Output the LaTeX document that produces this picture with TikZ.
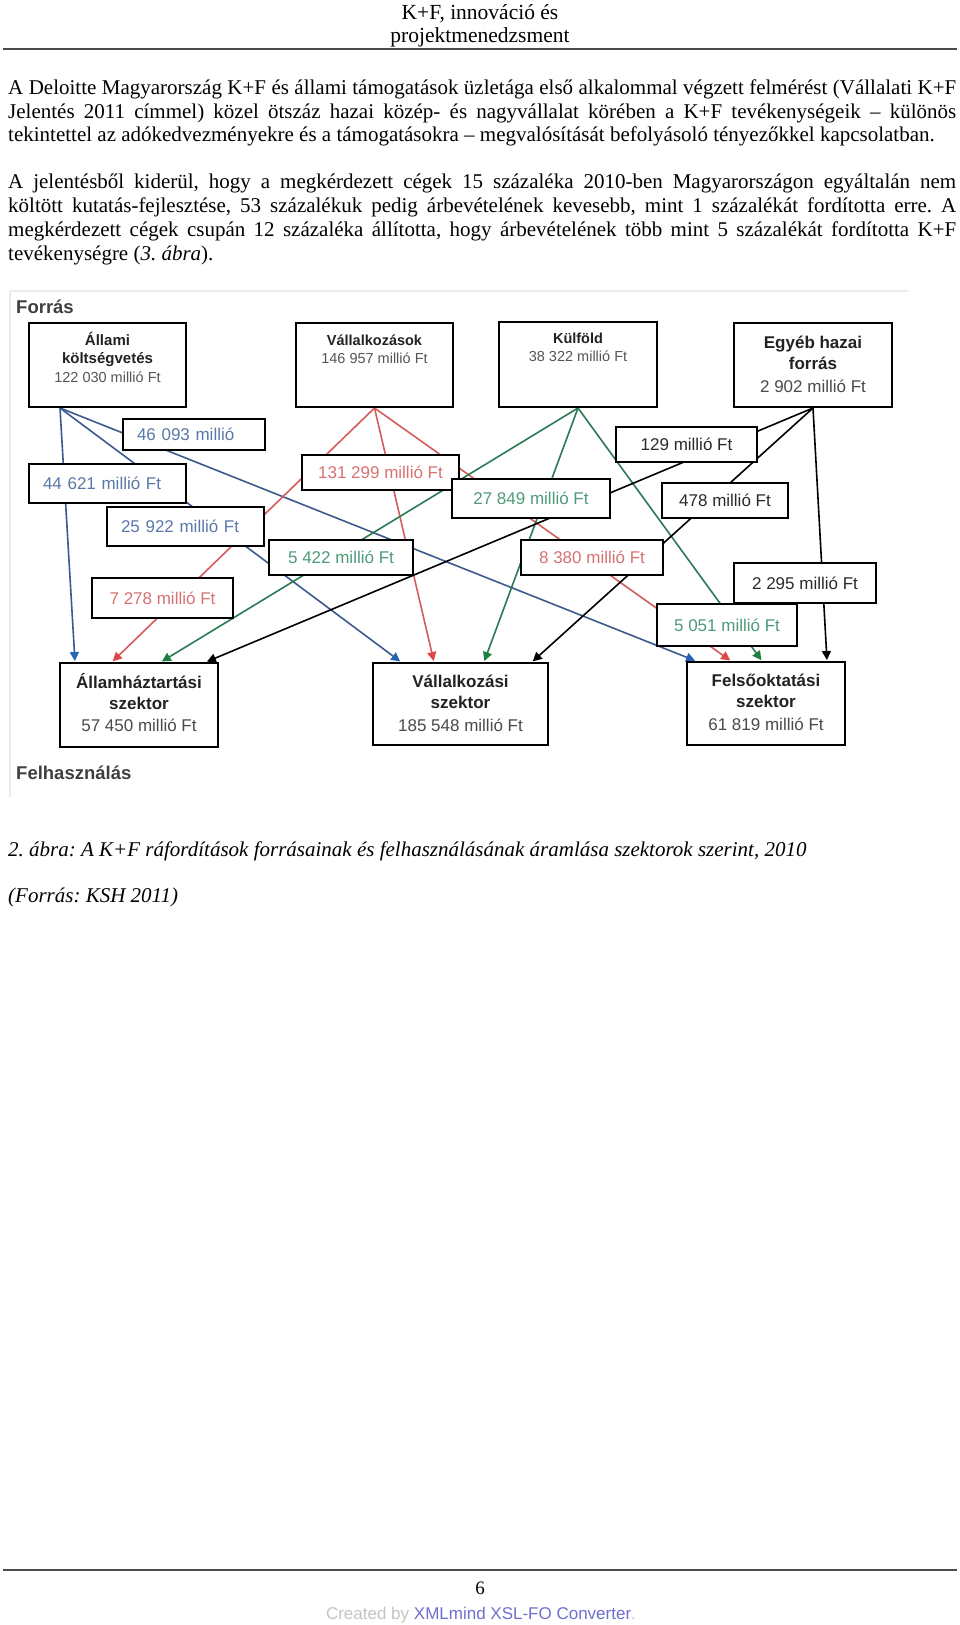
\documentclass[tikz,border=0pt]{standalone}
\usepackage{fontspec}
\setmainfont{Liberation Serif}
\newfontfamily\arialf{Liberation Sans}
\usetikzlibrary{arrows.meta}
\pgfdeclarelayer{bg}
\pgfsetlayers{bg,main}
\frenchspacing
\definecolor{bline}{HTML}{3C5A8C}
\definecolor{barrow}{HTML}{2563B5}
\definecolor{rline}{HTML}{D45C5C}
\definecolor{rarrow}{HTML}{E04646}
\definecolor{gline}{HTML}{2B7A55}
\definecolor{garrow}{HTML}{1B8040}
\definecolor{btext}{HTML}{5A78A8}
\definecolor{rtext}{HTML}{D87272}
\definecolor{gtext}{HTML}{4E9A7A}
\definecolor{ktext}{HTML}{2A2A2A}
\definecolor{valgray}{HTML}{555555}
\definecolor{titlek}{HTML}{222222}
\definecolor{rulegray}{HTML}{4A4A4A}
\definecolor{frameg}{HTML}{EBEBEB}
\definecolor{fogray}{HTML}{C4C4C4}
\definecolor{foblue}{HTML}{6F6FCF}
\tikzset{
  bigbox/.style={draw=black, line width=2pt, fill=white, inner sep=0pt},
  lblbox/.style={draw=black, line width=1.8pt, fill=white, inner sep=0pt,
    font=\arialf\fontsize{17pt}{20pt}\selectfont},
  bleft/.style={align=left, text width=#1, inner xsep=14pt},
  ttl/.style={anchor=base, inner sep=0pt, text=titlek,
    font=\arialf\bfseries\fontsize{15pt}{18pt}\selectfont},
  val/.style={anchor=base, inner sep=0pt, text=valgray,
    font=\arialf\fontsize{14.5pt}{18pt}\selectfont},
  ttlL/.style={anchor=base, inner sep=0pt, text=titlek,
    font=\arialf\bfseries\fontsize{17pt}{20pt}\selectfont},
  valL/.style={anchor=base, inner sep=0pt, text=ktext!85!white,
    font=\arialf\fontsize{17pt}{20pt}\selectfont},
  sect/.style={anchor=base west, inner sep=0pt, text=ktext!90!white,
    font=\arialf\bfseries\fontsize{18.5pt}{22pt}\selectfont},
  flow/.style={line width=1.6pt, shorten >=1pt},
  bflow/.style={flow, draw=bline, -{Triangle[length=9pt,width=9pt,color=barrow]}},
  rflow/.style={flow, draw=rline, -{Triangle[length=9pt,width=9pt,color=rarrow]}},
  gflow/.style={flow, draw=gline, -{Triangle[length=9pt,width=9pt,color=garrow]}},
  kflow/.style={flow, draw=black, -{Triangle[length=9pt,width=9pt,color=black]}},
  bodyl/.style={anchor=base west, inner sep=0pt, font=\fontsize{21pt}{23.6pt}\selectfont},
  capl/.style={anchor=base west, inner sep=0pt, font=\fontsize{21pt}{23.6pt}\selectfont\itshape},
  hdr/.style={anchor=base, inner sep=0pt, font=\fontsize{21.5pt}{23pt}\selectfont},
}
\begin{document}
\begin{tikzpicture}[x=1pt, y=-1pt]
\useasboundingbox (0,0) rectangle (960,1625);
% header
\node[hdr] (h1) at (480,19.5) {K+F, innováció és};
\node[hdr] (h2) at (480,42.5) {projektmenedzsment};
\draw[rulegray, line width=1.7pt] (3,49) -- (957,49);
% body
\node[bodyl] (p1a) at (8,94.3) {\makebox[948pt][s]{A Deloitte Magyarország K+F és állami támogatások üzletága első alkalommal végzett felmérést (Vállalati K+F}};
\node[bodyl] (p1b) at (8,118) {\makebox[948pt][s]{Jelentés 2011 címmel) közel ötszáz hazai közép- és nagyvállalat körében a K+F tevékenységeik – különös}};
\node[bodyl] (p1c) at (8,141.7) {tekintettel az adókedvezményekre és a támogatásokra – megvalósítását befolyásoló tényezőkkel kapcsolatban.};
\node[bodyl] (p2a) at (8,188.5) {\makebox[948pt][s]{A jelentésből kiderül, hogy a megkérdezett cégek 15 százaléka 2010-ben Magyarországon egyáltalán nem}};
\node[bodyl] (p2b) at (8,212) {\makebox[948pt][s]{költött kutatás-fejlesztése, 53 százalékuk pedig árbevételének kevesebb, mint 1 százalékát fordította erre. A}};
\node[bodyl] (p2c) at (8,236) {\makebox[948pt][s]{megkérdezett cégek csupán 12 százaléka állította, hogy árbevételének több mint 5 százalékát fordította K+F}};
\node[bodyl] (p2d) at (8,260) {tevékenységre (\textit{3. ábra}).};
% diagram frame
\draw[frameg, line width=1.2pt] (10,797) -- (10,291) -- (908,291);
\node[sect] (forras) at (16,313.5) {Forrás};
\node[sect] (felh) at (16,779.3) {Felhasználás};
% source boxes
\node[bigbox, minimum width=157pt, minimum height=84pt] (src1) at (107.5,365) {};
\node[ttl] (src1a) at (107.5,345.5) {Állami};
\node[ttl] (src1b) at (107.5,363.5) {költségvetés};
\node[val] (src1c) at (107.5,382) {122 030 millió Ft};
\node[bigbox, minimum width=157pt, minimum height=84pt] (src2) at (374.5,365) {};
\node[ttl, font=\arialf\bfseries\fontsize{14.5pt}{18pt}\selectfont] (src2a) at (374.5,345) {Vállalkozások};
\node[val] (src2b) at (374.5,363.3) {146 957 millió Ft};
\node[bigbox, minimum width=158pt, minimum height=85pt] (src3) at (578,364.5) {};
\node[ttl, font=\arialf\bfseries\fontsize{14.5pt}{18pt}\selectfont] (src3a) at (578,343.3) {Külföld};
\node[val] (src3b) at (578,361.7) {38 322 millió Ft};
\node[bigbox, minimum width=158pt, minimum height=84pt] (src4) at (813,365) {};
\node[ttlL] (src4a) at (813,348.3) {Egyéb hazai};
\node[ttlL] (src4b) at (813,369.3) {forrás};
\node[valL] (src4c) at (813,392.7) {2 902 millió Ft};
% destination boxes
\node[bigbox, minimum width=158pt, minimum height=84pt] (dst1) at (139,705) {};
\node[ttlL] (dst1a) at (139,688.3) {Államháztartási};
\node[ttlL] (dst1b) at (139,709.3) {szektor};
\node[valL] (dst1c) at (139,731.7) {57 450 millió Ft};
\node[bigbox, minimum width=175pt, minimum height=82pt] (dst2) at (460.5,704) {};
\node[ttlL] (dst2a) at (460.5,687.7) {Vállalkozási};
\node[ttlL] (dst2b) at (460.5,708.3) {szektor};
\node[valL] (dst2c) at (460.5,731.7) {185 548 millió Ft};
\node[bigbox, minimum width=158pt, minimum height=83pt] (dst3) at (766,703.5) {};
\node[ttlL] (dst3a) at (766,686.7) {Felsőoktatási};
\node[ttlL] (dst3b) at (766,707.3) {szektor};
\node[valL] (dst3c) at (766,730) {61 819 millió Ft};
% flow labels
\node[lblbox, bleft=114pt, minimum width=142pt, minimum height=31pt, text=btext] (l46093) at (194,434.5) {46 093 millió};
\node[lblbox, bleft=129pt, minimum width=157pt, minimum height=39pt, text=btext] (l44621) at (107.5,483.5) {44 621 millió Ft};
\node[lblbox, bleft=129pt, minimum width=157pt, minimum height=39pt, text=btext] (l25922) at (185.5,526.5) {25 922 millió Ft};
\node[lblbox, minimum width=157pt, minimum height=35pt, text=rtext] (l131299) at (380.5,472.5) {131 299 millió Ft};
\node[lblbox, minimum width=141pt, minimum height=40pt, text=rtext] (l7278) at (162.5,598) {7 278 millió Ft};
\node[lblbox, minimum width=142pt, minimum height=35pt, text=rtext] (l8380) at (592,557.5) {8 380 millió Ft};
\node[lblbox, minimum width=158pt, minimum height=39pt, text=gtext] (l27849) at (531,498.5) {27 849 millió Ft};
\node[lblbox, minimum width=144pt, minimum height=35pt, text=gtext] (l5422) at (341,557.5) {5 422 millió Ft};
\node[lblbox, minimum width=140pt, minimum height=42pt, text=gtext] (l5051) at (727,625) {5 051 millió Ft};
\node[lblbox, minimum width=141pt, minimum height=35pt, text=ktext] (l129) at (686.5,444.5) {129 millió Ft};
\node[lblbox, minimum width=126pt, minimum height=35pt, text=ktext] (l478) at (725,500.5) {478 millió Ft};
\node[lblbox, minimum width=142pt, minimum height=40pt, text=ktext] (l2295) at (805,583) {2 295 millió Ft};
% caption
\node[capl] (cap1) at (8,856) {2. ábra: A K+F ráfordítások forrásainak és felhasználásának áramlása szektorok szerint, 2010};
\node[capl] (cap2) at (8,902) {(Forrás: KSH 2011)};
% footer
\draw[rulegray, line width=2pt] (3,1570) -- (957,1570);
\node[anchor=base, inner sep=0pt, font=\fontsize{19pt}{22pt}\selectfont] (pnum) at (480,1594) {6};
\node[anchor=base, inner sep=0pt, font=\arialf\fontsize{17pt}{20pt}\selectfont, text=fogray] (made) at (481,1619) {Created by \textcolor{foblue}{XMLmind XSL-FO Converter}.};
% connectors
\begin{pgfonlayer}{bg}
\fill[white] (0,0) rectangle (960,1625);
\coordinate (ob) at ([xshift=32pt]src1.south west);
\draw[bflow] (ob) -- ([xshift=16pt]dst1.north west);
\draw[bflow] (ob) -- ([xshift=29pt]dst2.north west);
\draw[bflow] (ob) -- ([xshift=10pt]dst3.north west);
\draw[rflow] (src2.south) -- ([xshift=53pt]dst1.north west);
\draw[rflow] (src2.south) -- ([xshift=62pt]dst2.north west);
\draw[rflow] (src2.south) -- ([xshift=45pt]dst3.north west);
\draw[gflow] (src3.south) -- ([xshift=102pt]dst1.north west);
\draw[gflow] (src3.south) -- ([xshift=112pt]dst2.north west);
\draw[gflow] (src3.south) -- ([xshift=76pt]dst3.north west);
\draw[kflow] (src4.south) -- ([xshift=147pt]dst1.north west);
\draw[kflow] (src4.south) -- ([xshift=160pt]dst2.north west);
\draw[kflow] (src4.south) -- ([xshift=141pt]dst3.north west);
\end{pgfonlayer}
\end{tikzpicture}
\end{document}
